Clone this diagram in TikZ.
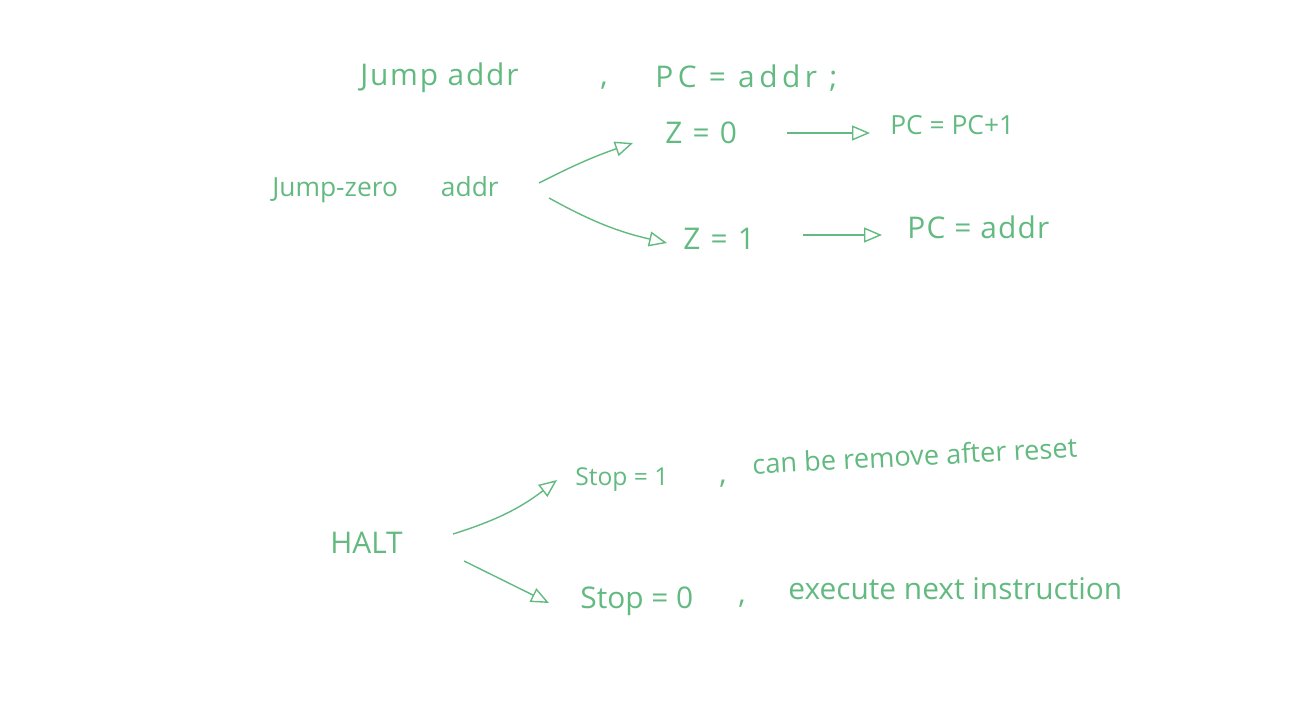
\documentclass[tikz,border=0pt]{standalone}
\usepackage{fontspec}
\setmainfont{Open Sans}
\usetikzlibrary{arrows.meta}
\definecolor{ink}{HTML}{62BA80}

\tikzset{
  txt/.style={anchor=west,inner sep=0pt,text=ink,font=\fontsize{17}{20}\selectfont},
  small/.style={txt,font=\fontsize{15}{18}\selectfont},
  arr/.style={draw=ink,line width=0.8pt,-{Triangle[open,length=3.6mm,width=3mm]}}
}
\newcommand{\spread}[2]{{\addfontfeature{LetterSpace=#1}#2}}

\begin{document}
\begin{tikzpicture}[x=0.02cm,y=-0.02cm]
  \useasboundingbox (0,0) rectangle (1297,701);

  % jump
  \node[txt] (jump) at (360,78) {\spread{6}{Jump addr}};
  \node[txt] (c1) at (600,86) {,};
  \node[txt] (pcaddr) at (655,78) {\spread{15}{PC = addr ;}};

  % jump-zero
  \node[small] (jz) at (272,190) {Jump-zero\hspace{0.86cm}addr};
  \node[txt] (z0) at (665,133) {\spread{8}{Z = 0}};
  \node[small] (pc1) at (890,125) {PC = PC+1};
  \node[txt] (z1) at (683,239) {\spread{8}{Z = 1}};
  \node[txt] (pcad) at (907,227) {\spread{4}{PC = addr}};

  \draw[arr] ([xshift=0.8cm,yshift=0.14cm]jz.east) to[bend left=4] ([xshift=-0.64cm,yshift=-0.2cm]z0.west);
  \draw[arr] ([xshift=1cm,yshift=-0.16cm]jz.east) to[bend right=8] ([xshift=-0.32cm,yshift=-0.08cm]z1.west);
  \draw[arr] ([xshift=1cm]z0.east) -- ([xshift=-0.4cm]z0.east -| pc1.west);
  \draw[arr] ([xshift=0.96cm,yshift=0.08cm]z1.east) -- ([xshift=-0.5cm,yshift=0.08cm]z1.east -| pcad.west);

  % halt
  \node[txt] (halt) at (330,543) {HALT};
  \node[txt,font=\fontsize{14}{17}\selectfont] (s1) at (575,480) {Stop = 1};
  \node[txt] (c2) at (719,484) {,};
  \node[txt,font=\fontsize{15.5}{18}\selectfont,rotate=3] (n1) at (752,464) {can be remove after reset};
  \node[txt] (s0) at (580,601) {Stop = 0};
  \node[txt] (c3) at (738,604) {,};
  \node[txt] (n0) at (788,589) {execute next instruction};

  \draw[arr] ([xshift=1cm,yshift=0.18cm]halt.east) to[bend right=10] ([xshift=-0.36cm]s1.west);
  \draw[arr] ([xshift=1.22cm,yshift=-0.36cm]halt.east) -- ([xshift=-0.62cm,yshift=-0.04cm]s0.west);
\end{tikzpicture}
\end{document}
